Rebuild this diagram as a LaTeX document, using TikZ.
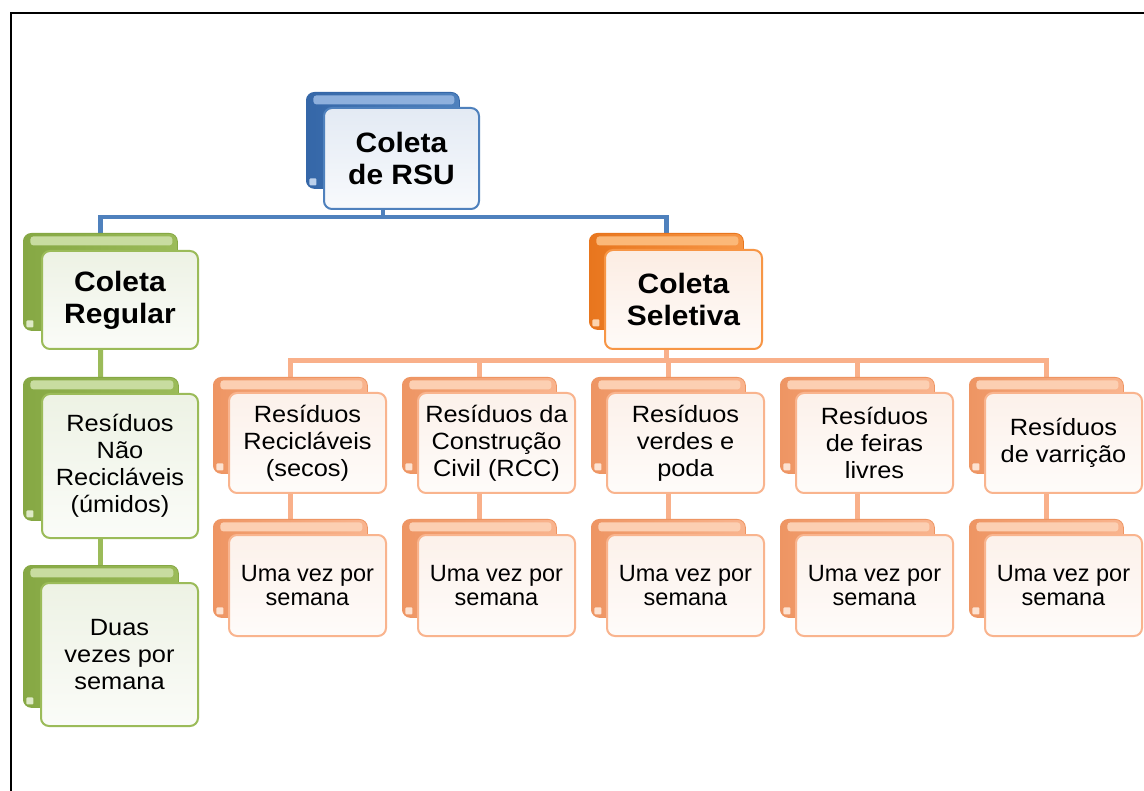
\documentclass[tikz,border=0pt]{standalone}
\usepackage{fontspec}
\setmainfont{Liberation Sans}
\newfontfamily\titlefont[FakeStretch=1.07]{Liberation Sans}
\newfontfamily\bodyfont[FakeStretch=1.08]{Liberation Sans}
\newfontfamily\plainfont{Liberation Sans}
\usetikzlibrary{backgrounds}
\definecolor{blueA}{HTML}{4F81BD}
\definecolor{blueD}{HTML}{3567A8}
\definecolor{blueL}{HTML}{8EB0DD}
\definecolor{blueF}{HTML}{E3EAF4}
\definecolor{greenA}{HTML}{9BBB59}
\definecolor{greenD}{HTML}{86A844}
\definecolor{greenL}{HTML}{C8DCA0}
\definecolor{greenF}{HTML}{EDF2E4}
\definecolor{orgA}{HTML}{F79646}
\definecolor{orgD}{HTML}{E8761E}
\definecolor{orgL}{HTML}{FBB878}
\definecolor{orgF}{HTML}{FCEDE3}
\definecolor{pchA}{HTML}{F9B48E}
\definecolor{pchD}{HTML}{EE9563}
\definecolor{pchL}{HTML}{FCCFB2}
\definecolor{pchF}{HTML}{FCF1EA}
\definecolor{pchLine}{HTML}{F9B08A}
\newcommand\hlband[1]{%
  \fill[#1, rounded corners=3pt] ([xshift=7pt,yshift=-3pt]path picture bounding box.north west) rectangle ([xshift=-5pt,yshift=-12pt]path picture bounding box.north east);
  \fill[#1!60!white, rounded corners=1pt] ([xshift=3pt,yshift=3pt]path picture bounding box.south west) rectangle ++(7pt,7pt);}
\tikzset{
  bkbase/.style={rectangle, rounded corners=8pt, inner sep=0pt, anchor=north west, line width=0.8pt},
  bkblue/.style={bkbase, draw=blueD, left color=blueD, right color=blueA, path picture={\hlband{blueL}}},
  bkgreen/.style={bkbase, draw=greenD, left color=greenD, right color=greenA, path picture={\hlband{greenL}}},
  bkorg/.style={bkbase, draw=orgD, left color=orgD, right color=orgA, path picture={\hlband{orgL}}},
  bkpch/.style={bkbase, draw=pchD, left color=pchD, right color=pchA, path picture={\hlband{pchL}}},
  frbase/.style={rectangle, rounded corners=8pt, inner sep=0pt, anchor=north west, line width=2pt, align=center},
  frblue/.style={frbase, draw=blueA, top color=blueF, bottom color=blueF!25!white},
  frgreen/.style={frbase, draw=greenA, top color=greenF, bottom color=greenF!25!white},
  frorg/.style={frbase, draw=orgA, top color=orgF, bottom color=orgF!25!white},
  frpch/.style={frbase, draw=pchA, top color=pchF, bottom color=pchF!25!white},
  ttl/.style={font=\titlefont\bfseries\fontsize{28}{32}\selectfont},
  txt/.style={font=\bodyfont\fontsize{23.5}{27}\selectfont},
  txtb/.style={font=\plainfont\fontsize{23.5}{24.5}\selectfont},
  bline/.style={draw=blueA, line width=4.5pt},
  gline/.style={draw=greenA, line width=5pt},
  pline/.style={draw=pchLine, line width=5pt},
  frame/.style={draw=black, line width=2pt}
}
\begin{document}
\begin{tikzpicture}[x=1pt,y=-1pt]
\useasboundingbox (0,0) rectangle (1144,791);
\begin{scope}[on background layer]
\fill[white] (0,0) rectangle (1144,791);
\end{scope}
\draw[frame] (11,791) -- (11,13) -- (1144,13);

% top
\node[bkblue, minimum width=153pt, minimum height=96pt] (rsuB) at (306,92) {};
\node[frblue, ttl, minimum width=155pt, minimum height=101pt] (rsu) at (323,107) {Coleta\\de RSU};
% level 1
\node[bkgreen, minimum width=154pt, minimum height=97pt] (regB) at (23,233) {};
\node[frgreen, ttl, minimum width=156pt, minimum height=98pt] (reg) at (41,250) {Coleta\\Regular};
\node[bkorg, minimum width=154pt, minimum height=96pt] (selB) at (589,233) {};
\node[frorg, ttl, minimum width=157pt, minimum height=99pt] (sel) at (604,249) {Coleta\\Seletiva};
% left column
\node[bkgreen, minimum width=155pt, minimum height=143pt] (naoB) at (23,377) {};
\node[frgreen, txt, minimum width=156pt, minimum height=144pt] (nao) at (41,393) {Resíduos\\Não\\Recicláveis\\(úmidos)};
\node[bkgreen, minimum width=155pt, minimum height=142pt] (duasB) at (23,565) {};
\node[frgreen, txt, minimum width=157pt, minimum height=143pt] (duas) at (40,582) {Duas\\vezes por\\semana};
% selective children row 1
\node[bkpch, minimum width=154pt, minimum height=96pt] (c1B) at (213,377) {};
\node[frpch, txt, minimum width=157pt, minimum height=100pt] (c1) at (228,392) {Resíduos\\Recicláveis\\(secos)};
\node[bkpch, minimum width=154pt, minimum height=96pt] (c2B) at (402,377) {};
\node[frpch, txt, minimum width=157pt, minimum height=100pt] (c2) at (417,392) {Resíduos da\\Construção\\Civil (RCC)};
\node[bkpch, minimum width=154pt, minimum height=96pt] (c3B) at (591,377) {};
\node[frpch, txt, minimum width=157pt, minimum height=100pt] (c3) at (606,392) {Resíduos\\verdes e\\poda};
\node[bkpch, minimum width=154pt, minimum height=96pt] (c4B) at (780,377) {};
\node[frpch, txt, minimum width=157pt, minimum height=100pt] (c4) at (795,392) {Resíduos\\de feiras\\livres};
\node[bkpch, minimum width=154pt, minimum height=96pt] (c5B) at (969,377) {};
\node[frpch, txt, minimum width=157pt, minimum height=100pt] (c5) at (984,392) {Resíduos\\de varrição};
% row 2
\node[bkpch, minimum width=154pt, minimum height=98pt] (d1B) at (213,519) {};
\node[frpch, txtb, minimum width=157pt, minimum height=101pt] (d1) at (228,534) {Uma vez por\\semana};
\node[bkpch, minimum width=154pt, minimum height=98pt] (d2B) at (402,519) {};
\node[frpch, txtb, minimum width=157pt, minimum height=101pt] (d2) at (417,534) {Uma vez por\\semana};
\node[bkpch, minimum width=154pt, minimum height=98pt] (d3B) at (591,519) {};
\node[frpch, txtb, minimum width=157pt, minimum height=101pt] (d3) at (606,534) {Uma vez por\\semana};
\node[bkpch, minimum width=154pt, minimum height=98pt] (d4B) at (780,519) {};
\node[frpch, txtb, minimum width=157pt, minimum height=101pt] (d4) at (795,534) {Uma vez por\\semana};
\node[bkpch, minimum width=154pt, minimum height=98pt] (d5B) at (969,519) {};
\node[frpch, txtb, minimum width=157pt, minimum height=101pt] (d5) at (984,534) {Uma vez por\\semana};

\coordinate (bus1) at (0,217);
\coordinate (bus2) at (0,361);
\begin{scope}[on background layer]
\draw[bline] (rsuB.center) -- (rsuB.center |- bus1) -| (regB.center);
\draw[bline] (rsuB.center |- bus1) -| (selB.center);
\draw[gline] (regB.center) -- (naoB.center);
\draw[gline] (naoB.center) -- (duasB.center);
\draw[pline] (selB.center) -- (selB.center |- bus2) -| (c1B.center);
\foreach \c in {c2,c3,c4,c5} {\draw[pline] (selB.center |- bus2) -| (\c B.center);}
\foreach \i in {1,...,5} {\draw[pline] (c\i B.center) -- (d\i B.center);}
\end{scope}
\end{tikzpicture}
\end{document}
